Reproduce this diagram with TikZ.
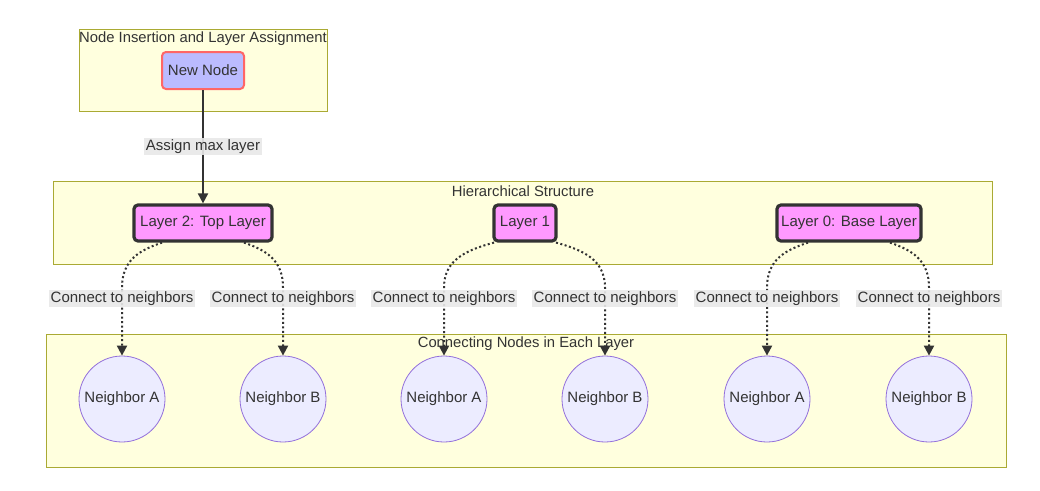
\documentclass[tikz,border=0pt]{standalone}
\usepackage{fontspec}
\setmainfont{Liberation Sans}
\usetikzlibrary{arrows.meta,calc}
\definecolor{clfill}{HTML}{FFFFDE}
\definecolor{clline}{HTML}{AAAA33}
\definecolor{txt}{HTML}{333333}
\definecolor{nnfill}{HTML}{BBBBFF}
\definecolor{nnline}{HTML}{FF6666}
\definecolor{lyfill}{HTML}{FF99FF}
\definecolor{cifill}{HTML}{ECECFF}
\definecolor{ciline}{HTML}{9370DB}
\definecolor{lblbg}{HTML}{E8E8E8}
\tikzset{
  cluster/.style={draw=clline, fill=clfill, line width=0.8pt},
  cltitle/.style={text=txt, font=\fontsize{14.8}{17}\selectfont, inner sep=0pt},
  newnode/.style={draw=nnline, fill=nnfill, line width=2pt, rounded corners=4pt,
     minimum width=82pt, minimum height=37pt, inner sep=0pt, text=txt, font=\fontsize{15}{17}\selectfont},
  layerbox/.style={draw=txt, fill=lyfill, line width=3.2pt, rounded corners=4pt,
     minimum height=36pt, inner sep=0pt, text=txt, font=\fontsize{15}{17}\selectfont},
  nbcircle/.style={circle, draw=ciline, fill=cifill, line width=0.8pt, minimum size=86pt,
     inner sep=0pt, text=txt, font=\fontsize{15}{17}\selectfont},
  elabel/.style={fill=lblbg, fill opacity=0.9, text opacity=1, text=txt, inner sep=1.5pt,
     font=\fontsize{15}{17}\selectfont},
  solidedge/.style={draw=txt, line width=1.8pt, -{Triangle[length=10pt,width=10pt]}},
  dotedge/.style={draw=txt, line width=2pt, dash pattern=on 2pt off 2.5pt,
     -{Triangle[length=10pt,width=10pt]}},
}
\begin{document}
\begin{tikzpicture}[x=1pt,y=-1pt]
\path[use as bounding box, fill=white] (0,0) rectangle (1040,490);
% clusters
\draw[cluster] (79,29) rectangle (327,111);
\draw[cluster] (53,181) rectangle (992,264);
\draw[cluster] (46,334) rectangle (1006,467);
\node[cltitle] (t1) at (203,39) {Node Insertion and Layer Assignment};
\node[cltitle] (t2) at (523,191) {Hierarchical Structure};
\node[cltitle] (t3) at (526,344) {Connecting Nodes in Each Layer};
% nodes
\node[newnode] (nn) at (203,70.5) {New Node};
\node[layerbox, minimum width=138pt] (L2) at (203,223) {Layer 2: Top Layer};
\node[layerbox, minimum width=62pt] (L1) at (525,223) {Layer 1};
\node[layerbox, minimum width=144pt] (L0) at (849,223) {Layer 0: Base Layer};
\node[nbcircle] (a2) at (122,399) {Neighbor A};
\node[nbcircle] (b2) at (283,399) {Neighbor B};
\node[nbcircle] (a1) at (444,399) {Neighbor A};
\node[nbcircle] (b1) at (605,399) {Neighbor B};
\node[nbcircle] (a0) at (767,399) {Neighbor A};
\node[nbcircle] (b0) at (929,399) {Neighbor B};
% main edge
\draw[solidedge] (nn.south) -- node[elabel, pos=0.5] {Assign max layer} (L2.north);
% dotted edges
\foreach \src/\dx/\dst in {L2/-41/a2, L2/41/b2, L1/-31/a1, L1/31/b1, L0/-41/a0, L0/41/b0}{
  \draw[dotedge] ($(\src.south)+(\dx,0)$)
     .. controls ($($(\src.south)+(\dx,0)$)!0.55!($(\dst.north)+(0,-114)$)+(0,8)$)
        and ($(\dst.north)+(0,-96)$) ..
     ($(\dst.north)+(0,-68)$)
     -- node[elabel, pos=0.16] {Connect to neighbors} (\dst.north);
}
\end{tikzpicture}
\end{document}
